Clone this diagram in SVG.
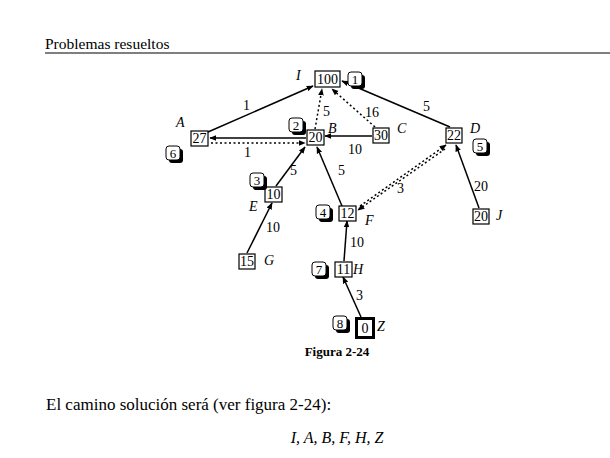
<svg xmlns="http://www.w3.org/2000/svg" width="610" height="458" viewBox="0 0 610 458" font-family="'Liberation Serif', 'Times New Roman', serif">
<defs>
<marker id="ah" viewBox="0 0 10 10" refX="9" refY="5" markerWidth="7" markerHeight="7" markerUnits="userSpaceOnUse" orient="auto">
<path d="M0,1 L10,5 L0,9 Z" fill="#000"/>
</marker>
<style>
text{font-family:"Liberation Serif","Times New Roman",serif;fill:#000}
.n{font-size:14px;text-anchor:middle}
.b{font-size:13px;text-anchor:middle}
.l{font-size:14px;font-style:italic}
.w{font-size:14px}
.box{fill:#fff;stroke:#000;stroke-width:1.2}
.bd{fill:#fff;stroke:#000;stroke-width:1}
.sh{fill:#000}
.s{fill:none;stroke:#000;stroke-width:1.5}
.d{fill:none;stroke:#000;stroke-width:1.5;stroke-dasharray:2 2.5}
</style>
</defs>
<rect width="610" height="458" fill="#fff"/>
<text x="45" y="49" style="font-size:15.5px">Problemas resueltos</text>
<line x1="45" y1="53" x2="610" y2="53" stroke="#000" stroke-width="1.2"/>

<g id="edges">
<line class="s" x1="208" y1="132" x2="313" y2="86" marker-end="url(#ah)"/>
<text class="w" x="243" y="110">1</text>
<line class="s" x1="306" y1="138" x2="210" y2="138" marker-end="url(#ah)"/>
<line class="d" x1="211" y1="143" x2="305" y2="143" marker-end="url(#ah)"/>
<text class="w" x="244" y="157">1</text>
<line class="d" x1="315" y1="129" x2="322" y2="89" marker-end="url(#ah)"/>
<text class="w" x="323" y="116">5</text>
<line class="d" x1="375" y1="127" x2="332" y2="89" marker-end="url(#ah)"/>
<text class="w" x="365" y="117">16</text>
<line class="s" x1="450" y1="127" x2="342" y2="81" marker-end="url(#ah)"/>
<text class="w" x="423" y="111">5</text>
<line class="s" x1="372" y1="136" x2="325" y2="136" marker-end="url(#ah)"/>
<text class="w" x="348" y="154">10</text>
<line class="s" x1="276" y1="186" x2="305" y2="147" marker-end="url(#ah)"/>
<text class="w" x="290" y="175">5</text>
<line class="s" x1="342" y1="206" x2="317" y2="147" marker-end="url(#ah)"/>
<text class="w" x="338" y="175">5</text>
<line class="d" x1="360" y1="206" x2="446" y2="145" marker-end="url(#ah)"/>
<line class="d" x1="445" y1="149" x2="358" y2="210" marker-end="url(#ah)"/>
<text class="w" x="397" y="193">3</text>
<line class="s" x1="479" y1="208" x2="456" y2="145" marker-end="url(#ah)"/>
<text class="w" x="474" y="191">20</text>
<line class="s" x1="247" y1="253" x2="272" y2="203" marker-end="url(#ah)"/>
<text class="w" x="266" y="232">10</text>
<line class="s" x1="344" y1="261" x2="347" y2="221" marker-end="url(#ah)"/>
<text class="w" x="350" y="247">10</text>
<line class="s" x1="361" y1="317" x2="343" y2="277" marker-end="url(#ah)"/>
<text class="w" x="356" y="300">3</text>
</g>

<g id="node-I">
<rect class="box" x="315" y="71" width="25" height="16"/>
<text class="n" x="327.5" y="84">100</text>
<text class="l" x="296" y="80">I</text>
<rect class="sh" x="351" y="75" width="14" height="14" rx="3"/>
<rect class="bd" x="348" y="72" width="14" height="14" rx="3"/>
<text class="b" x="355" y="84">1</text>
</g>
<g id="node-B">
<rect class="box" x="307" y="130" width="17" height="15"/>
<text class="n" x="315.5" y="142">20</text>
<text class="l" x="328" y="133">B</text>
<rect class="sh" x="292" y="121" width="14" height="14" rx="3"/>
<rect class="bd" x="289" y="118" width="14" height="14" rx="3"/>
<text class="b" x="296" y="130">2</text>
</g>
<g id="node-C">
<rect class="box" x="373" y="128" width="16" height="15"/>
<text class="n" x="381" y="140">30</text>
<text class="l" x="397" y="133">C</text>
</g>
<g id="node-A">
<rect class="box" x="191" y="131" width="17" height="15"/>
<text class="n" x="199.5" y="143">27</text>
<text class="l" x="176" y="127">A</text>
<rect class="sh" x="169" y="149" width="14" height="14" rx="3"/>
<rect class="bd" x="166" y="146" width="14" height="14" rx="3"/>
<text class="b" x="173" y="158">6</text>
</g>
<g id="node-D">
<rect class="box" x="446" y="128" width="16" height="15"/>
<text class="n" x="454" y="140">22</text>
<text class="l" x="470" y="133">D</text>
<rect class="sh" x="476" y="142" width="14" height="14" rx="3"/>
<rect class="bd" x="473" y="139" width="14" height="14" rx="3"/>
<text class="b" x="480" y="151">5</text>
</g>
<g id="node-J">
<rect class="box" x="473" y="209" width="16" height="15"/>
<text class="n" x="481" y="221">20</text>
<text class="l" x="496" y="220">J</text>
</g>
<g id="node-E">
<rect class="box" x="265" y="187" width="17" height="15"/>
<text class="n" x="273.5" y="199">10</text>
<text class="l" x="249" y="211">E</text>
<rect class="sh" x="253" y="176" width="14" height="14" rx="3"/>
<rect class="bd" x="250" y="173" width="14" height="14" rx="3"/>
<text class="b" x="257" y="185">3</text>
</g>
<g id="node-G">
<rect class="box" x="239" y="254" width="16" height="15"/>
<text class="n" x="247" y="266">15</text>
<text class="l" x="264" y="265">G</text>
</g>
<g id="node-F">
<rect class="box" x="339" y="206" width="17" height="15"/>
<text class="n" x="347.5" y="218">12</text>
<text class="l" x="365" y="225">F</text>
<rect class="sh" x="319" y="208" width="14" height="14" rx="3"/>
<rect class="bd" x="316" y="205" width="14" height="14" rx="3"/>
<text class="b" x="323" y="217">4</text>
</g>
<g id="node-H">
<rect class="box" x="335" y="262" width="17" height="15"/>
<text class="n" x="343.5" y="274">11</text>
<text class="l" x="353" y="274">H</text>
<rect class="sh" x="315" y="265" width="14" height="14" rx="3"/>
<rect class="bd" x="312" y="262" width="14" height="14" rx="3"/>
<text class="b" x="319" y="274">7</text>
</g>
<g id="node-Z">
<rect x="356.5" y="318.5" width="17" height="19" fill="#fff" stroke="#000" stroke-width="3"/>
<text class="n" x="365" y="333">0</text>
<text class="l" x="377" y="331">Z</text>
<rect class="sh" x="336" y="319" width="14" height="14" rx="3"/>
<rect class="bd" x="333" y="316" width="14" height="14" rx="3"/>
<text class="b" x="340" y="328">8</text>
</g>

<text x="337" y="356" style="font-size:13px;font-weight:bold;text-anchor:middle">Figura 2-24</text>
<text x="46" y="410" style="font-size:17px">El camino solución será (ver figura 2-24):</text>
<text x="337" y="443" style="font-size:16px;font-style:italic;text-anchor:middle">I, A, B, F, H, Z</text>
</svg>
